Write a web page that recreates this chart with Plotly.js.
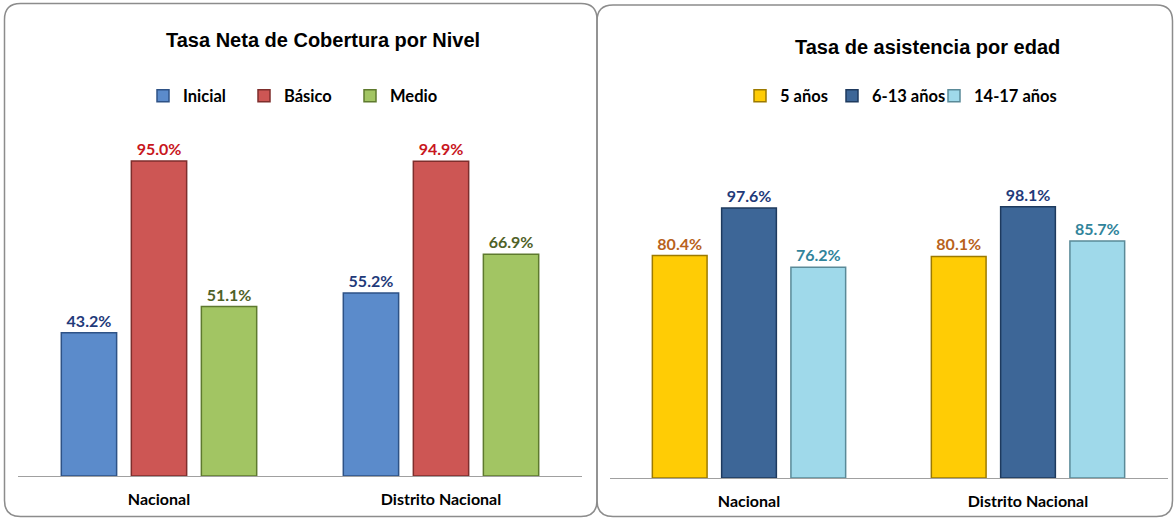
<!DOCTYPE html>
<html>
<head>
<meta charset="utf-8">
<script src="https://cdn.plot.ly/plotly-3.0.1.min.js"></script>
<style>
html,body{margin:0;padding:0;background:#fff;}
#chart{width:1174px;height:519px;}
</style>
</head>
<body>
<div id="chart"></div>
<script>
// ---- data ----
const categories = ["Nacional", "Distrito Nacional"];

const leftTitle = "Tasa Neta de Cobertura por Nivel";
const leftSeriesNames = ["Inicial", "Básico", "Medio"];
const inicial = [43.2, 55.2];
const basico = [95.0, 94.9];
const medio = [51.1, 66.9];

const rightTitle = "Tasa de asistencia por edad";
const rightSeriesNames = ["5 años", "6-13 años", "14-17 años"];
const anios5 = [80.4, 80.1];
const anios6_13 = [97.6, 98.1];
const anios14_17 = [76.2, 85.7];

// ---- styles ----
const W = 1174, H = 519;
const leftFill = ["#5B8BCB", "#CD5654", "#A2C563"];
const leftEdge = ["#2E5286", "#7E2E2C", "#5E7A2E"];
const leftText = ["#1F3A7A", "#C8161D", "#4F6228"];
const rightFill = ["#FFCC05", "#3D6697", "#9FD9EA"];
const rightEdge = ["#9C7A00", "#1E3A5E", "#5A8A98"];
const rightText = ["#B8621B", "#1F3A7A", "#31849B"];
// legend text start positions (px) for each entry
const leftLegendPx = [183, 284, 390];
const rightLegendPx = [780, 872, 974];

const labelFont = "Lato, 'Open Sans', sans-serif";

function px(x) { return x / W; }
function py(y) { return 1 - y / H; }

function mk(name, vals, i, fills, edges, texts, xa, ya, leg) {
  return {
    type: "bar", name: name, x: categories, y: vals,
    xaxis: xa, yaxis: ya, legend: leg,
    marker: {color: fills[i], line: {color: edges[i], width: 1.5}},
    text: vals.map(v => v.toFixed(1) + "%"),
    textposition: "outside",
    textfont: {family: labelFont, size: 16, color: texts[i], weight: "bold"},
    cliponaxis: false,
    hoverinfo: "skip"
  };
}

const leftVals = [inicial, basico, medio];
const rightVals = [anios5, anios6_13, anios14_17];
const traces = [];
const legends = {};
let li = 1;
function legName(n) { return n === 1 ? "legend" : "legend" + n; }
leftVals.forEach((v, i) => {
  const ln = legName(li++);
  traces.push(mk(leftSeriesNames[i], v, i, leftFill, leftEdge, leftText, "x", "y", ln));
  legends[ln] = leftLegendPx[i];
});
rightVals.forEach((v, i) => {
  const ln = legName(li++);
  traces.push(mk(rightSeriesNames[i], v, i, rightFill, rightEdge, rightText, "x2", "y2", ln));
  legends[ln] = rightLegendPx[i];
});

function roundRect(x0, y0, x1, y1, r) {
  const rx = r / W, ry = r / H;
  const X0 = px(x0), X1 = px(x1), Y0 = py(y0), Y1 = py(y1);
  return `M ${X0 + rx},${Y0} L ${X1 - rx},${Y0} Q ${X1},${Y0} ${X1},${Y0 - ry} ` +
         `L ${X1},${Y1 + ry} Q ${X1},${Y1} ${X1 - rx},${Y1} L ${X0 + rx},${Y1} ` +
         `Q ${X0},${Y1} ${X0},${Y1 + ry} L ${X0},${Y0 - ry} Q ${X0},${Y0} ${X0 + rx},${Y0} Z`;
}

const axisX = {
  showline: true, linecolor: "#A0A0A0", linewidth: 1,
  ticks: "", showgrid: false, zeroline: false,
  tickfont: {family: labelFont, size: 16, color: "#000", weight: "bold"},
  ticklabelstandoff: 9, fixedrange: true
};
const axisY = {visible: false, showgrid: false, zeroline: false, fixedrange: true};

const layout = {
  width: W, height: H,
  margin: {l: 0, r: 0, t: 0, b: 0},
  paper_bgcolor: "#fff", plot_bgcolor: "rgba(0,0,0,0)",
  barmode: "group", bargap: 0.255, bargroupgap: 0.21,
  showlegend: true,
  xaxis: Object.assign({}, axisX, {domain: [px(18), px(582)], anchor: "y"}),
  yaxis: Object.assign({}, axisY, {domain: [py(476), py(140)], range: [0, (476 - 140) / 3.316], anchor: "x"}),
  xaxis2: Object.assign({}, axisX, {domain: [px(609.5), px(1167.5)], anchor: "y2"}),
  yaxis2: Object.assign({}, axisY, {domain: [py(478), py(140)], range: [0, (478 - 140) / 2.766], anchor: "x2"}),
  annotations: [
    {text: leftTitle, xref: "paper", yref: "paper", x: px(323), y: py(40), xanchor: "center", yanchor: "middle",
     showarrow: false, font: {family: "'Liberation Sans', Arial, sans-serif", size: 20, color: "#000", weight: "bold"}},
    {text: rightTitle, xref: "paper", yref: "paper", x: px(927), y: py(47), xanchor: "center", yanchor: "middle",
     showarrow: false, font: {family: "'Liberation Sans', Arial, sans-serif", size: 20, color: "#000", weight: "bold"}}
  ],
  shapes: [
    {type: "path", xref: "paper", yref: "paper", path: roundRect(4.5, 3.5, 597, 516.5, 16), line: {color: "#8C8C8C", width: 1.5}, layer: "below"},
    {type: "path", xref: "paper", yref: "paper", path: roundRect(597, 5, 1172.5, 516.5, 16), line: {color: "#8C8C8C", width: 1.5}, layer: "below"}
  ]
};
Object.keys(legends).forEach(ln => {
  layout[ln] = {
    orientation: "h", x: px(legends[ln] - 40), xanchor: "left", y: py(96), yanchor: "middle",
    font: {family: labelFont, size: 16.5, color: "#000", weight: "bold"},
    itemwidth: 30, bgcolor: "rgba(0,0,0,0)", borderwidth: 0
  };
});

Plotly.newPlot("chart", traces, layout, {displayModeBar: false, staticPlot: true});
</script>
</body>
</html>
